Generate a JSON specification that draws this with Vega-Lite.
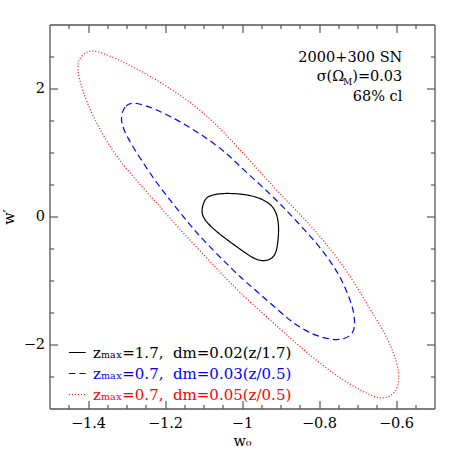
{
  "$schema": "https://vega.github.io/schema/vega-lite/v6.json",
  "autosize": "none",
  "width": 385,
  "height": 384,
  "padding": {"left": 49.5, "top": 24.5, "right": 23.5, "bottom": 49.5},
  "background": "white",
  "config": {
    "view": {"stroke": null},
    "axis": {
      "grid": false,
      "domainColor": "#555",
      "domainWidth": 1.3,
      "tickColor": "#555",
      "tickWidth": 1.2,
      "labelFont": "DejaVu Serif",
      "labelFontSize": 14.5,
      "labelColor": "#000",
      "titleFont": "DejaVu Serif",
      "titleFontSize": 14.5,
      "titleFontWeight": "normal",
      "titleColor": "#000"
    }
  },
  "datasets": {
    "contours": [
      {"s": "a", "i": 0, "w0": -1.106, "wp": 0.10},
      {"s": "a", "i": 1, "w0": -1.096, "wp": 0.29},
      {"s": "a", "i": 2, "w0": -1.079, "wp": 0.336},
      {"s": "a", "i": 3, "w0": -1.049, "wp": 0.367},
      {"s": "a", "i": 4, "w0": -0.997, "wp": 0.352},
      {"s": "a", "i": 5, "w0": -0.961, "wp": 0.305},
      {"s": "a", "i": 6, "w0": -0.927, "wp": 0.211},
      {"s": "a", "i": 7, "w0": -0.909, "wp": 0.055},
      {"s": "a", "i": 8, "w0": -0.904, "wp": -0.164},
      {"s": "a", "i": 9, "w0": -0.906, "wp": -0.367},
      {"s": "a", "i": 10, "w0": -0.911, "wp": -0.58},
      {"s": "a", "i": 11, "w0": -0.925, "wp": -0.675},
      {"s": "a", "i": 12, "w0": -0.948, "wp": -0.70},
      {"s": "a", "i": 13, "w0": -0.971, "wp": -0.655},
      {"s": "a", "i": 14, "w0": -1.005, "wp": -0.51},
      {"s": "a", "i": 15, "w0": -1.049, "wp": -0.32},
      {"s": "a", "i": 16, "w0": -1.083, "wp": -0.15},
      {"s": "a", "i": 17, "w0": -1.101, "wp": -0.02},
      {"s": "b", "i": 0, "w0": -1.314, "wp": 1.586},
      {"s": "b", "i": 1, "w0": -1.304, "wp": 1.742},
      {"s": "b", "i": 2, "w0": -1.278, "wp": 1.794},
      {"s": "b", "i": 3, "w0": -1.222, "wp": 1.675},
      {"s": "b", "i": 4, "w0": -1.153, "wp": 1.461},
      {"s": "b", "i": 5, "w0": -1.092, "wp": 1.227},
      {"s": "b", "i": 6, "w0": -1.040, "wp": 0.992},
      {"s": "b", "i": 7, "w0": -1.005, "wp": 0.78},
      {"s": "b", "i": 8, "w0": -0.947, "wp": 0.466},
      {"s": "b", "i": 9, "w0": -0.901, "wp": 0.20},
      {"s": "b", "i": 10, "w0": -0.858, "wp": -0.075},
      {"s": "b", "i": 11, "w0": -0.806, "wp": -0.414},
      {"s": "b", "i": 12, "w0": -0.764, "wp": -0.75},
      {"s": "b", "i": 13, "w0": -0.737, "wp": -1.03},
      {"s": "b", "i": 14, "w0": -0.712, "wp": -1.409},
      {"s": "b", "i": 15, "w0": -0.707, "wp": -1.617},
      {"s": "b", "i": 16, "w0": -0.708, "wp": -1.773},
      {"s": "b", "i": 17, "w0": -0.7195, "wp": -1.878},
      {"s": "b", "i": 18, "w0": -0.7455, "wp": -1.93},
      {"s": "b", "i": 19, "w0": -0.7714, "wp": -1.919},
      {"s": "b", "i": 20, "w0": -0.8156, "wp": -1.852},
      {"s": "b", "i": 21, "w0": -0.8675, "wp": -1.669},
      {"s": "b", "i": 22, "w0": -0.9099, "wp": -1.44},
      {"s": "b", "i": 23, "w0": -0.9618, "wp": -1.17},
      {"s": "b", "i": 24, "w0": -1.0052, "wp": -0.941},
      {"s": "b", "i": 25, "w0": -1.0312, "wp": -0.79},
      {"s": "b", "i": 26, "w0": -1.1013, "wp": -0.367},
      {"s": "b", "i": 27, "w0": -1.139, "wp": -0.102},
      {"s": "b", "i": 28, "w0": -1.181, "wp": 0.211},
      {"s": "b", "i": 29, "w0": -1.2216, "wp": 0.523},
      {"s": "b", "i": 30, "w0": -1.262, "wp": 0.883},
      {"s": "b", "i": 31, "w0": -1.2995, "wp": 1.247},
      {"s": "b", "i": 32, "w0": -1.313, "wp": 1.45},
      {"s": "c", "i": 0, "w0": -1.4278, "wp": 2.394},
      {"s": "c", "i": 1, "w0": -1.418, "wp": 2.51},
      {"s": "c", "i": 2, "w0": -1.3948, "wp": 2.6125},
      {"s": "c", "i": 3, "w0": -1.3514, "wp": 2.54},
      {"s": "c", "i": 4, "w0": -1.265, "wp": 2.289},
      {"s": "c", "i": 5, "w0": -1.179, "wp": 1.977},
      {"s": "c", "i": 6, "w0": -1.0917, "wp": 1.6},
      {"s": "c", "i": 7, "w0": -1.0138, "wp": 1.1},
      {"s": "c", "i": 8, "w0": -0.95, "wp": 0.68},
      {"s": "c", "i": 9, "w0": -0.8935, "wp": 0.30},
      {"s": "c", "i": 10, "w0": -0.826, "wp": -0.102},
      {"s": "c", "i": 11, "w0": -0.761, "wp": -0.570},
      {"s": "c", "i": 12, "w0": -0.712, "wp": -0.992},
      {"s": "c", "i": 13, "w0": -0.668, "wp": -1.44},
      {"s": "c", "i": 14, "w0": -0.636, "wp": -1.75},
      {"s": "c", "i": 15, "w0": -0.6126, "wp": -2.03},
      {"s": "c", "i": 16, "w0": -0.6, "wp": -2.242},
      {"s": "c", "i": 17, "w0": -0.592, "wp": -2.45},
      {"s": "c", "i": 18, "w0": -0.593, "wp": -2.64},
      {"s": "c", "i": 19, "w0": -0.607, "wp": -2.79},
      {"s": "c", "i": 20, "w0": -0.633, "wp": -2.85},
      {"s": "c", "i": 21, "w0": -0.659, "wp": -2.815},
      {"s": "c", "i": 22, "w0": -0.6935, "wp": -2.711},
      {"s": "c", "i": 23, "w0": -0.7455, "wp": -2.528},
      {"s": "c", "i": 24, "w0": -0.7974, "wp": -2.294},
      {"s": "c", "i": 25, "w0": -0.8494, "wp": -2.034},
      {"s": "c", "i": 26, "w0": -0.8969, "wp": -1.78},
      {"s": "c", "i": 27, "w0": -0.979, "wp": -1.336},
      {"s": "c", "i": 28, "w0": -1.0312, "wp": -1.039},
      {"s": "c", "i": 29, "w0": -1.0623, "wp": -0.83},
      {"s": "c", "i": 30, "w0": -1.1566, "wp": -0.2375},
      {"s": "c", "i": 31, "w0": -1.2052, "wp": 0.102},
      {"s": "c", "i": 32, "w0": -1.265, "wp": 0.50},
      {"s": "c", "i": 33, "w0": -1.3255, "wp": 0.92},
      {"s": "c", "i": 34, "w0": -1.3688, "wp": 1.352},
      {"s": "c", "i": 35, "w0": -1.4034, "wp": 1.773},
      {"s": "c", "i": 36, "w0": -1.4252, "wp": 2.184}
    ],
    "notes": [
      {"t": "2000+300 SN", "w0": -0.5836, "wp": 2.4094},
      {"t": ")=0.03", "w0": -0.5836, "wp": 2.1219},
      {"t": "σ(Ω", "w0": -0.7343, "wp": 2.1219},
      {"t": "68% cl", "w0": -0.5836, "wp": 1.8047}
    ],
    "subs": [
      {"t": "M", "w0": -0.7135, "wp": 2.0547}
    ]
  },
  "resolve": {"axis": {"x": "independent", "y": "independent"}},
  "layer": [
    {
      "data": {"name": "contours"},
      "mark": {"type": "line", "interpolate": "basis-closed", "strokeWidth": 1.2},
      "encoding": {
        "x": {
          "field": "w0", "type": "quantitative",
          "scale": {"domain": [-1.5, -0.5], "nice": false, "zero": false},
          "axis": {
            "orient": "bottom",
            "title": "w₀",
            "titlePadding": 0,
            "values": [-1.45, -1.4, -1.35, -1.3, -1.25, -1.2, -1.15, -1.1, -1.05, -1, -0.95, -0.9, -0.85, -0.8, -0.75, -0.7, -0.65, -0.6, -0.55],
            "tickSize": {"condition": {"test": "abs(datum.value*5 - round(datum.value*5)) < 0.01", "value": -8}, "value": -4},
            "labelExpr": "abs(datum.value*5 - round(datum.value*5)) < 0.01 ? format(datum.value, '~g') : ''",
            "labelPadding": 16,
            "labelFlush": false,
            "labelOverlap": false
          }
        },
        "y": {
          "field": "wp", "type": "quantitative",
          "scale": {"domain": [-3, 3], "nice": false, "zero": false},
          "axis": {
            "orient": "left",
            "title": "w′",
            "titlePadding": 7,
            "values": [-2.5, -2, -1.5, -1, -0.5, 0, 0.5, 1, 1.5, 2, 2.5],
            "tickSize": {"condition": {"test": "abs(datum.value/2 - round(datum.value/2)) < 0.01", "value": -8}, "value": -4},
            "labelExpr": "abs(datum.value/2 - round(datum.value/2)) < 0.01 ? format(datum.value, '~g') : ''",
            "labelPadding": 13,
            "labelFlush": false,
            "labelOverlap": false
          }
        },
        "order": {"field": "i", "type": "quantitative"},
        "color": {
          "field": "s", "type": "nominal",
          "scale": {"domain": ["a", "b", "c"], "range": ["#000000", "#0000ff", "#ff0000"]},
          "legend": {
            "orient": "none",
            "legendX": 18.8,
            "legendY": 319,
            "title": null,
            "padding": 0,
            "symbolType": "stroke",
            "symbolSize": 280,
            "symbolStrokeWidth": 1.2,
            "labelFont": "DejaVu Serif",
            "labelFontSize": 15,
            "labelOffset": 6.7,
            "labelLimit": 400,
            "rowPadding": 4,
            "labelExpr": "datum.value == 'a' ? 'zₘₐₓ=1.7,\u00a0 dm=0.02(z/1.7)' : datum.value == 'b' ? 'zₘₐₓ=0.7,\u00a0 dm=0.03(z/0.5)' : 'zₘₐₓ=0.7,\u00a0 dm=0.05(z/0.5)'",
            "encode": {"labels": {"update": {"fill": {"signal": "scale('color', datum.value)"}}}}
          }
        },
        "strokeDash": {
          "field": "s", "type": "nominal",
          "scale": {"domain": ["a", "b", "c"], "range": [[1, 0], [6.5, 4], [1, 2]]}
        }
      }
    },
    {
      "data": {"name": "notes"},
      "mark": {"type": "text", "align": "right", "baseline": "alphabetic", "font": "DejaVu Serif", "fontSize": 14.5, "color": "#000"},
      "encoding": {
        "x": {
          "field": "w0", "type": "quantitative",
          "scale": {"domain": [-1.5, -0.5], "nice": false, "zero": false},
          "axis": {
            "orient": "top",
            "title": null,
            "values": [-1.45, -1.4, -1.35, -1.3, -1.25, -1.2, -1.15, -1.1, -1.05, -1, -0.95, -0.9, -0.85, -0.8, -0.75, -0.7, -0.65, -0.6, -0.55],
            "tickSize": {"condition": {"test": "abs(datum.value*5 - round(datum.value*5)) < 0.01", "value": -8}, "value": -4},
            "labels": false
          }
        },
        "y": {
          "field": "wp", "type": "quantitative",
          "scale": {"domain": [-3, 3], "nice": false, "zero": false},
          "axis": {
            "orient": "right",
            "title": null,
            "values": [-2.5, -2, -1.5, -1, -0.5, 0, 0.5, 1, 1.5, 2, 2.5],
            "tickSize": {"condition": {"test": "abs(datum.value/2 - round(datum.value/2)) < 0.01", "value": -8}, "value": -4},
            "labels": false
          }
        },
        "text": {"field": "t"}
      }
    },
    {
      "data": {"name": "subs"},
      "mark": {"type": "text", "align": "right", "baseline": "alphabetic", "font": "DejaVu Serif", "fontSize": 9, "color": "#000"},
      "encoding": {
        "x": {"field": "w0", "type": "quantitative", "scale": {"domain": [-1.5, -0.5], "nice": false, "zero": false}, "axis": null},
        "y": {"field": "wp", "type": "quantitative", "scale": {"domain": [-3, 3], "nice": false, "zero": false}, "axis": null},
        "text": {"field": "t"}
      }
    }
  ]
}
